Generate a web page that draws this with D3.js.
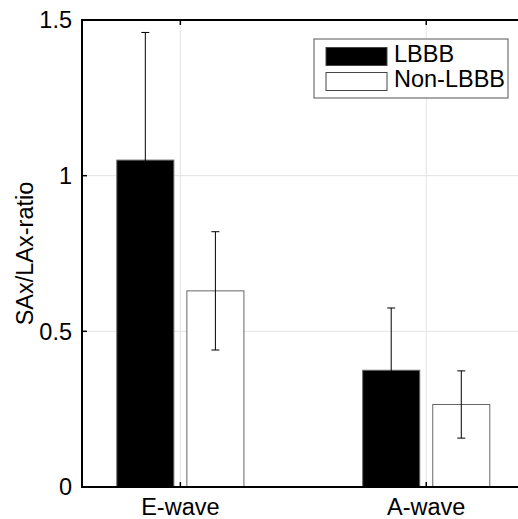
<!DOCTYPE html>
<html>
<head>
<meta charset="utf-8">
<script src="https://cdn.jsdelivr.net/npm/d3@7/dist/d3.min.js"></script>
<style>
  body { margin: 0; background: #fff; }
  svg { display: block; font-family: "Liberation Sans", Arial, sans-serif; }
</style>
</head>
<body>
<div id="chart"></div>
<script>
var categories = ["E-wave", "A-wave"]
var groups = ["LBBB", "Non-LBBB"]
var lbbbMean = [1.05, 0.375]
var lbbbErr = [0.41, 0.2]
var nonMean = [0.63, 0.265]
var nonErr = [0.19, 0.108]
var yTicks = [0, 0.5, 1, 1.5]
var yTickLabels = ["0", "0.5", "1", "1.5"]

var fills = { "LBBB": "#000", "Non-LBBB": "#fff" }

var svg = d3.select("#chart").append("svg")
  .attr("width", 518)
  .attr("height", 519)

var pLeft = 82, pTop = 20, pBottom = 487

// x in category units, one unit per group
var x = d3.scaleLinear().domain([0.6, 2.4]).range([pLeft, 524.6])
var y = d3.scaleLinear().domain([0, 1.5]).range([pBottom, pTop])

// grid
svg.append("g").selectAll("line.gx")
  .data(categories)
  .enter().append("line")
  .attr("x1", (d, i) => x(i + 1)).attr("x2", (d, i) => x(i + 1))
  .attr("y1", pTop).attr("y2", pBottom)
  .attr("stroke", "#e3e3e3").attr("stroke-width", 1)

svg.append("g").selectAll("line.gy")
  .data(yTicks.slice(1, -1))
  .enter().append("line")
  .attr("x1", pLeft).attr("x2", 518)
  .attr("y1", d => y(d)).attr("y2", d => y(d))
  .attr("stroke", "#e3e3e3").attr("stroke-width", 1)

// bars
var rows = []
categories.forEach((c, i) => {
  rows.push({ g: "LBBB", pos: i + 1 - 0.1425, m: lbbbMean[i], e: lbbbErr[i] })
  rows.push({ g: "Non-LBBB", pos: i + 1 + 0.1425, m: nonMean[i], e: nonErr[i] })
})
var bw = 0.232

svg.append("g").selectAll("rect")
  .data(rows)
  .enter().append("rect")
  .attr("x", d => x(d.pos - bw / 2))
  .attr("width", d => x(d.pos + bw / 2) - x(d.pos - bw / 2))
  .attr("y", d => y(d.m))
  .attr("height", d => y(0) - y(d.m))
  .attr("fill", d => fills[d.g])
  .attr("stroke", "#666").attr("stroke-width", 1)

// error bars (black, so the lower half vanishes into the black bars)
var eb = svg.append("g").selectAll("g")
  .data(rows)
  .enter().append("g")
  .attr("stroke", "#000").attr("stroke-width", 1)

eb.append("line")
  .attr("x1", d => x(d.pos)).attr("x2", d => x(d.pos))
  .attr("y1", d => y(d.m - d.e)).attr("y2", d => y(d.m + d.e))
eb.append("line")
  .attr("x1", d => x(d.pos) - 4).attr("x2", d => x(d.pos) + 4)
  .attr("y1", d => y(d.m + d.e)).attr("y2", d => y(d.m + d.e))
eb.append("line")
  .attr("x1", d => x(d.pos) - 4).attr("x2", d => x(d.pos) + 4)
  .attr("y1", d => y(d.m - d.e)).attr("y2", d => y(d.m - d.e))

// box
svg.append("rect")
  .attr("x", pLeft).attr("y", pTop)
  .attr("width", x(2.4) - pLeft).attr("height", pBottom - pTop)
  .attr("fill", "none").attr("stroke", "#000").attr("stroke-width", 2)

// ticks
var tk = svg.append("g").attr("stroke", "#000").attr("stroke-width", 1.5)
tk.selectAll("line.ty")
  .data(yTicks)
  .enter().append("line")
  .attr("x1", pLeft).attr("x2", pLeft + 5)
  .attr("y1", d => y(d)).attr("y2", d => y(d))
categories.forEach((c, i) => {
  tk.append("line").attr("x1", x(i + 1)).attr("x2", x(i + 1)).attr("y1", pBottom).attr("y2", pBottom - 5)
  tk.append("line").attr("x1", x(i + 1)).attr("x2", x(i + 1)).attr("y1", pTop).attr("y2", pTop + 5)
})

svg.append("g").selectAll("text")
  .data(yTicks)
  .enter().append("text")
  .attr("x", pLeft - 10)
  .attr("y", d => y(d))
  .attr("dy", "0.36em")
  .attr("text-anchor", "end")
  .attr("font-size", "23.5px")
  .text((d, i) => yTickLabels[i])

svg.append("g").selectAll("text")
  .data(categories)
  .enter().append("text")
  .attr("x", (d, i) => x(i + 1))
  .attr("y", 515)
  .attr("text-anchor", "middle")
  .attr("font-size", "23.5px")
  .text(d => d)

svg.append("text")
  .attr("transform", "translate(33," + ((pTop + pBottom) / 2) + ") rotate(-90)")
  .attr("text-anchor", "middle")
  .attr("font-size", "23.5px")
  .text("SAx/LAx-ratio")

// legend
var lg = svg.append("g").attr("transform", "translate(314,39)")
lg.append("rect")
  .attr("width", 194).attr("height", 59)
  .attr("fill", "#fff").attr("stroke", "#555").attr("stroke-width", 1)

var items = lg.selectAll("g.item")
  .data(groups)
  .enter().append("g")
  .attr("transform", (d, i) => "translate(0," + (i * 25) + ")")
items.append("rect")
  .attr("x", 12).attr("y", 8.5)
  .attr("width", 61).attr("height", 18)
  .attr("fill", d => fills[d])
  .attr("stroke", "#444").attr("stroke-width", 1)
items.append("text")
  .attr("x", 80).attr("y", 23)
  .attr("font-size", "23.5px")
  .text(d => d)
</script>
</body>
</html>
